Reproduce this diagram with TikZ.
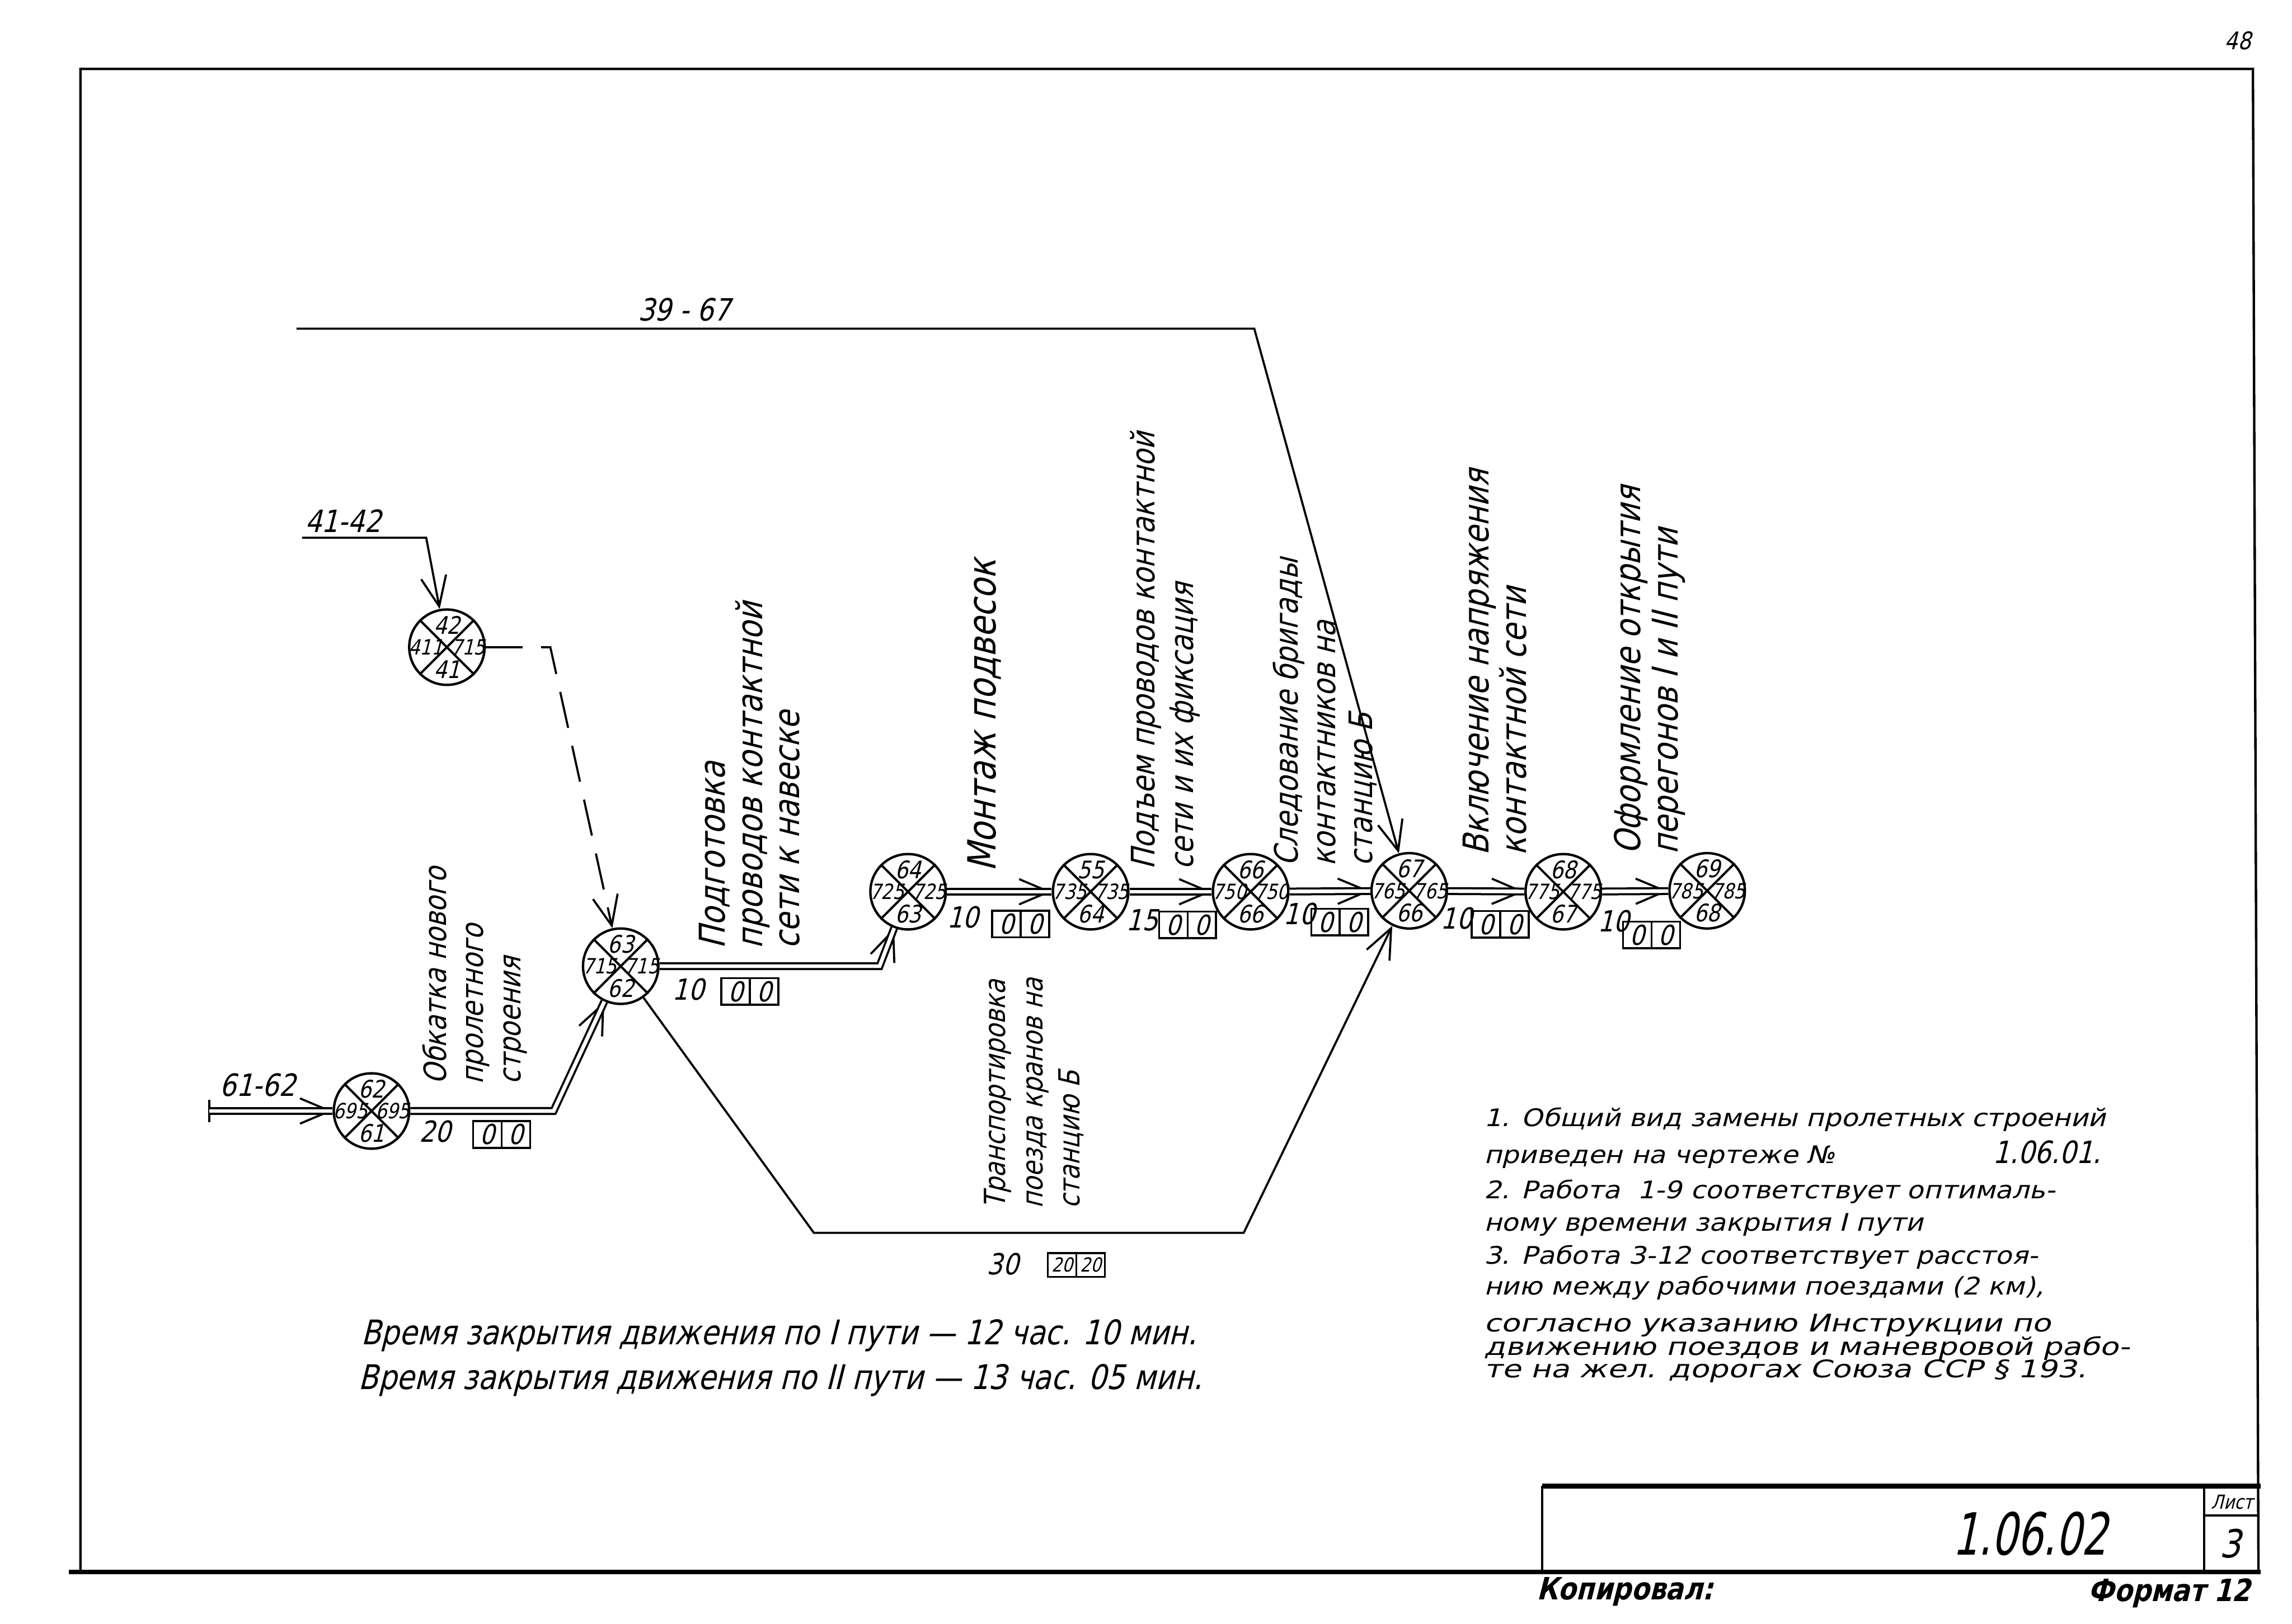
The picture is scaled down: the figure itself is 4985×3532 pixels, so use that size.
\documentclass[tikz,border=0pt]{standalone}
\usepackage{fontspec}
\usepackage{graphicx}
\setmainfont{DejaVu Sans}
\newfontfamily\gost{DejaVu Sans}[FakeSlant=0.25,FakeStretch=0.85]
\newfontfamily\gostwide{DejaVu Sans}[FakeSlant=0.25,FakeStretch=1.12]
\newfontfamily\gostwider{DejaVu Sans}[FakeSlant=0.25,FakeStretch=1.27]
\usetikzlibrary{arrows.meta,positioning}

\tikzset{
  evt/.style={circle,draw,line width=1.5pt,minimum size=16.4mm,inner sep=0pt},
  xline/.style={line width=1.4pt},
  numtb/.style={inner sep=0pt,font=\gost\fontsize{15}{15}\selectfont},
  numlr/.style={inner sep=0pt,font=\gost\fontsize{13}{13}\selectfont},
  work/.style={line width=1.3pt,double,double distance=2.3pt},
  link/.style={line width=1.3pt},
  tip/.style={-{Straight Barb[length=6.5mm,width=5.5mm]}},
  lab/.style={rotate=90,anchor=north west,align=left,inner sep=0pt,font=\gost\fontsize{22}{23}\selectfont},
  dur/.style={inner sep=0pt,font=\gost\fontsize{18}{18}\selectfont},
  cell/.style={draw,line width=1.3pt,outer sep=0pt,inner sep=0pt,minimum width=6.2mm,minimum height=5.8mm,font=\gost\fontsize{17}{17}\selectfont},
  note/.style={anchor=base west,inner sep=0pt,font=\gostwide\fontsize{15}{15}\selectfont},
  note2/.style={anchor=base west,inner sep=0pt,font=\gostwider\fontsize{15}{15}\selectfont},
  big/.style={anchor=base west,inner sep=0pt,font=\gost\fontsize{21}{21}\selectfont},
  code/.style={inner sep=0pt,font=\gost\fontsize{19}{19}\selectfont},
  frame/.style={line width=1.5pt},
  heavy/.style={line width=2.8pt}
}

% event circle: name, position, top, left, right, bottom
\newcommand\evt[6]{%
  \node[evt] (#1) at (#2) {};
  \draw[xline] (#1.north west) -- (#1.south east) (#1.north east) -- (#1.south west);
  \node[numtb] (#1t) at ([yshift=4.8mm]#1.center) {#3};
  \node[numlr] (#1l) at ([xshift=-4.6mm]#1.center) {#4};
  \node[numlr] (#1r) at ([xshift=4.6mm]#1.center) {#5};
  \node[numtb] (#1b) at ([yshift=-4.8mm]#1.center) {#6};
}

\begin{document}
\begin{tikzpicture}[x=0.1mm,y=-0.1mm]
\useasboundingbox (0,0) rectangle (4985,3532);

% frame and title block
\draw[frame] (175,3420) -- (175,150) -- (4900,150) -- (4912,3420);
\draw[heavy] (150,3420) -- (4917,3420);
\draw[heavy] (3354,3233) -- (4917,3233);
\draw[frame] (3354,3233) -- (3354,3420);
\draw[frame] (4794,3233) -- (4794,3420);
\draw[frame] (4794,3297) -- (4912,3297);
\node[inner sep=0pt,font=\gost\fontsize{36}{36}\selectfont] (sheetcode) at (4415,3337) {\scalebox{0.82}[1]{1.06.02}};
\node[inner sep=0pt,font=\gost\fontsize{12}{12}\selectfont] (sheetlbl) at (4855,3268) {Лист};
\node[inner sep=0pt,font=\gost\fontsize{24}{24}\selectfont] (sheetno) at (4850,3358) {3};
\node[inner sep=0pt,font=\gost\bfseries\fontsize{19}{19}\selectfont] (copied) at (3534,3463) {Копировал:};
\node[inner sep=0pt,font=\gost\bfseries\fontsize{19}{19}\selectfont] (format) at (4718,3466) {Формат 12};
\node[inner sep=0pt,font=\gost\fontsize{15}{15}\selectfont] (pageno) at (4867,89) {48};

% events
\evt{ev62}{808,2417}{62}{695}{695}{61}
\evt{ev63}{1350,2102}{63}{715}{715}{62}
\evt{ev42}{972,1408}{42}{411}{715}{41}
\evt{ev64}{1975,1940}{64}{725}{725}{63}
\evt{ev55}{2372,1940}{55}{735}{735}{64}
\evt{ev66}{2720,1940}{66}{750}{750}{66}
\evt{ev67}{3065,1938}{67}{765}{765}{66}
\evt{ev68}{3400,1940}{68}{775}{775}{67}
\evt{ev69}{3713,1938}{69}{785}{785}{68}

% bends
\coordinate (in61) at (455,2417);
\coordinate (kA) at (1204,2417);
\coordinate (kB) at (1913,2102);
\coordinate (kC) at (1197,1408);
\coordinate (s41) at (657,1170);
\coordinate (k41) at (927,1170);
\coordinate (s39) at (645,715);
\coordinate (k39) at (2728,715);
\coordinate (kL1) at (1770,2682);
\coordinate (kL2) at (2705,2682);

% connectors: the barb first, the double work line over it
\draw[link] ([yshift=2.4mm]in61) -- ([yshift=-2.4mm]in61);
\draw[link,tip] (in61) -- (ev62);
\draw[work] (in61) -- (ev62);
\draw[link,tip] (kA) -- (ev63);
\draw[work] (ev62.east) -- (kA) -- (ev63);
\draw[link,tip] (kB) -- (ev64);
\draw[work] (ev63.east) -- (kB) -- (ev64);
\foreach \a/\b in {ev64/ev55,ev55/ev66,ev66/ev67,ev67/ev68,ev68/ev69}{
  \draw[link,tip] (\a) -- (\b);
  \draw[work] (\a) -- (\b);
}
\draw[link,tip,dash pattern=on 8mm off 4mm] (ev42.east) -- (kC) -- (ev63);
\draw[link,tip] (s41) -- (k41) -- (ev42);
\draw[link,tip] (s39) -- (k39) -- (ev67);
\draw[link,tip] (ev63) -- (kL1) -- (kL2) -- (ev67);

% incoming works
\node[code] (w6162) at (560,2360) {61-62};
\node[code] (w4142) at (746,1133) {41-42};
\node[code] (w3967) at (1488,674) {39 - 67};

% work names
\node[lab,font=\gost\fontsize{19}{23}\selectfont] (tA) at (918,2360) {Обкатка нового\\пролетного\\строения};
\node[lab] (tB) at (1520,2065) {Подготовка\\проводов контактной\\сети к навеске};
\node[lab,font=\gost\fontsize{24}{24}\selectfont] (tD) at (2104,1897) {Монтаж подвесок};
\node[lab,font=\gost\fontsize{20}{24}\selectfont] (tE) at (2457,1893) {Подъем проводов контактной\\сети и их фиксация};
\node[lab,font=\gost\fontsize{20}{23}\selectfont] (tF) at (2768,1885) {Следование бригады\\контактников на\\станцию Б};
\node[lab] (tG) at (3181,1862) {Включение напряжения\\контактной сети};
\node[lab] (tH) at (3510,1860) {Оформление открытия\\перегонов I и II пути};
\node[lab,font=\gost\fontsize{18}{23}\selectfont] (tL) at (2140,2630) {Транспортировка\\поезда кранов на\\станцию Б};

% durations and reserves
\node[dur] (dA) at (946,2462) {20};
\node[cell,anchor=west] (cA1) at (1029,2468) {0};
\node[cell,right=0pt of cA1] (cA2) {0};
\node[dur] (dB) at (1497,2152) {10};
\node[cell,anchor=west] (cB1) at (1569,2157) {0};
\node[cell,right=0pt of cB1] (cB2) {0};
\node[dur] (dD) at (2094,1995) {10};
\node[cell,anchor=west] (cD1) at (2158,2010) {0};
\node[cell,right=0pt of cD1] (cD2) {0};
\node[dur] (dE) at (2484,2002) {15};
\node[cell,anchor=west] (cE1) at (2521,2012) {0};
\node[cell,right=0pt of cE1] (cE2) {0};
\node[dur] (dF) at (2826,1988) {10};
\node[cell,anchor=west] (cF1) at (2852,2006) {0};
\node[cell,right=0pt of cF1] (cF2) {0};
\node[dur] (dG) at (3168,1998) {10};
\node[cell,anchor=west] (cG1) at (3201,2011) {0};
\node[cell,right=0pt of cG1] (cG2) {0};
\node[dur] (dH) at (3509,2004) {10};
\node[cell,anchor=west] (cH1) at (3530,2034) {0};
\node[cell,right=0pt of cH1] (cH2) {0};
\node[dur] (dL) at (2181,2750) {30};
\node[cell,anchor=west,minimum height=5.2mm,font=\gost\fontsize{12}{12}\selectfont] (cL1) at (2279,2752) {20};
\node[cell,right=0pt of cL1,minimum height=5.2mm,font=\gost\fontsize{12}{12}\selectfont] (cL2) {20};

% closing times
\node[big] (closeI) at (785,2925) {Время закрытия движения по I пути — 12 час. 10 мин.};
\node[big] (closeII) at (779,3023) {Время закрытия движения по II пути — 13 час. 05 мин.};

% notes
\node[note] (n1) at (3227,2450) {1. Общий вид замены пролетных строений};
\node[note] (n2) at (3227,2531) {приведен на чертеже №};
\node[note,font=\gost\fontsize{19}{19}\selectfont] (n2b) at (4334,2531) {1.06.01.};
\node[note] (n3) at (3227,2607) {2. Работа \ 1-9 соответствует оптималь-};
\node[note] (n4) at (3227,2678) {ному времени закрытия I пути};
\node[note] (n5) at (3227,2750) {3. Работа 3-12 соответствует расстоя-};
\node[note] (n6) at (3227,2817) {нию между рабочими поездами (2 км),};
\node[note2] (n7) at (3227,2897) {согласно указанию Инструкции по};
\node[note2] (n8) at (3227,2948) {движению поездов и маневровой рабо-};
\node[note2] (n9) at (3227,2997) {те на жел. дорогах Союза ССР § 193.};
\end{tikzpicture}
\end{document}
